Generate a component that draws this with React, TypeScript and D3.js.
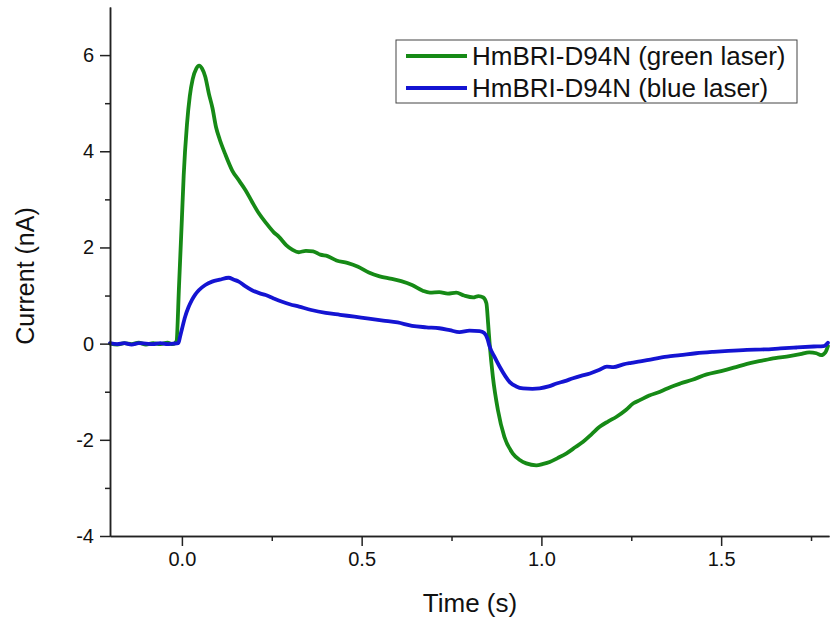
import React, { useEffect, useRef } from "react";
import * as d3 from "d3";

const greenT = [-0.2, -0.18, -0.16, -0.14, -0.12, -0.1, -0.08, -0.06, -0.04, -0.025, -0.015, -0.008, 0.0, 0.005, 0.014, 0.022, 0.03, 0.04, 0.048, 0.056, 0.065, 0.075, 0.085, 0.095, 0.105, 0.12, 0.14, 0.16, 0.177, 0.195, 0.214, 0.235, 0.255, 0.27, 0.29, 0.308, 0.325, 0.345, 0.365, 0.385, 0.405, 0.43, 0.46, 0.49, 0.52, 0.55, 0.58, 0.61, 0.64, 0.67, 0.69, 0.716, 0.74, 0.763, 0.785, 0.81, 0.825, 0.838, 0.847, 0.852, 0.856, 0.865, 0.879, 0.897, 0.92, 0.94, 0.958, 0.986, 1.005, 1.023, 1.045, 1.07, 1.095, 1.116, 1.14, 1.162, 1.185, 1.209, 1.235, 1.256, 1.275, 1.3, 1.33, 1.36, 1.386, 1.42, 1.46, 1.5, 1.535, 1.572, 1.61, 1.65, 1.69, 1.72, 1.745, 1.765, 1.778, 1.79, 1.797];
const greenV = [0.0, -0.02, 0.01, -0.01, 0.02, -0.02, 0.01, -0.01, 0.02, -0.01, 0.05, 1.2, 2.6, 3.5, 4.55, 5.15, 5.5, 5.72, 5.78, 5.72, 5.55, 5.2, 4.9, 4.5, 4.25, 3.95, 3.6, 3.38, 3.19, 2.95, 2.71, 2.5, 2.32, 2.22, 2.05, 1.95, 1.9, 1.93, 1.92, 1.85, 1.82, 1.73, 1.68, 1.6, 1.48, 1.4, 1.35, 1.3, 1.22, 1.1, 1.06, 1.07, 1.04, 1.06, 1.0, 0.96, 0.99, 0.96, 0.84, 0.4, 0.0, -0.69, -1.38, -1.94, -2.28, -2.42, -2.49, -2.53, -2.5, -2.46, -2.38, -2.28, -2.15, -2.04, -1.88, -1.73, -1.62, -1.52, -1.38, -1.24, -1.17, -1.08, -1.0, -0.9, -0.83, -0.75, -0.64, -0.57, -0.5, -0.42, -0.36, -0.3, -0.26, -0.22, -0.18, -0.2, -0.24, -0.18, -0.05];

const blueT = [-0.2, -0.18, -0.16, -0.14, -0.12, -0.1, -0.08, -0.06, -0.04, -0.025, -0.01, -0.005, 0.0, 0.009, 0.018, 0.028, 0.037, 0.047, 0.065, 0.084, 0.105, 0.13, 0.145, 0.158, 0.175, 0.195, 0.215, 0.233, 0.255, 0.279, 0.3, 0.326, 0.36, 0.4, 0.44, 0.48, 0.52, 0.56, 0.6, 0.64, 0.68, 0.716, 0.745, 0.772, 0.8, 0.828, 0.841, 0.85, 0.856, 0.87, 0.884, 0.9, 0.912, 0.93, 0.949, 0.975, 0.995, 1.02, 1.042, 1.065, 1.088, 1.11, 1.135, 1.16, 1.182, 1.2, 1.228, 1.25, 1.275, 1.31, 1.35, 1.386, 1.43, 1.479, 1.52, 1.572, 1.62, 1.665, 1.71, 1.758, 1.785, 1.797];
const blueV = [0.01, -0.01, 0.01, -0.02, 0.01, 0.0, -0.01, 0.01, -0.01, 0.0, 0.01, 0.15, 0.3, 0.56, 0.75, 0.91, 1.02, 1.11, 1.22, 1.29, 1.33, 1.37, 1.33, 1.29, 1.2, 1.11, 1.05, 1.01, 0.94, 0.87, 0.82, 0.77, 0.7, 0.64, 0.6, 0.56, 0.52, 0.48, 0.44, 0.37, 0.34, 0.32, 0.28, 0.24, 0.27, 0.26, 0.22, 0.1, -0.06, -0.28, -0.48, -0.68, -0.8, -0.89, -0.93, -0.94, -0.93, -0.89, -0.83, -0.78, -0.72, -0.67, -0.62, -0.55, -0.48, -0.49, -0.43, -0.4, -0.37, -0.32, -0.27, -0.24, -0.2, -0.17, -0.15, -0.13, -0.12, -0.1, -0.08, -0.06, -0.05, 0.02];

const seriesNames = ["HmBRI-D94N (green laser)", "HmBRI-D94N (blue laser)"];
const seriesColors = ["#168a16", "#1414d2"];

const yMajor = [-4, -2, 0, 2, 4, 6];
const yMinor = [-3, -1, 1, 3, 5];
const xMajor = [0, 0.5, 1.0, 1.5];
const xMinor = [0.25, 0.75, 1.25, 1.75];

const W = 839;
const H = 623;
const FONT = "'Liberation Sans', Arial, sans-serif";

export default function App() {
  const ref = useRef<SVGSVGElement | null>(null);

  useEffect(() => {
    const svg = d3.select(ref.current);
    svg.selectAll("*").remove();

    const x = d3.scaleLinear().domain([-0.2, 1.8]).range([110, 829]);
    const y = d3.scaleLinear().domain([-4, 7]).range([536, 7]);

    const line = d3
      .line<[number, number]>()
      .x((d) => x(d[0]))
      .y((d) => y(d[1]))
      .curve(d3.curveMonotoneX);

    const gData: [number, number][] = greenT.map((t, i) => [t, greenV[i]]);
    const bData: [number, number][] = blueT.map((t, i) => [t, blueV[i]]);

    [gData, bData].forEach((data, i) => {
      svg
        .append("path")
        .attr("d", line(data) as string)
        .attr("fill", "none")
        .attr("stroke", seriesColors[i])
        .attr("stroke-width", 3.8)
        .attr("stroke-linejoin", "round")
        .attr("stroke-linecap", "round");
    });

    const styleAxis = (g: any) => {
      g.selectAll("path, line").attr("stroke", "#222").attr("stroke-width", 1.5);
      g.selectAll("text").attr("fill", "#111").style("font-family", FONT).style("font-size", "20px");
    };

    // Y axis
    svg
      .append("g")
      .attr("transform", "translate(110,0)")
      .call(d3.axisLeft(y).tickValues(yMinor).tickSize(5).tickSizeOuter(0).tickFormat(() => ""))
      .call(styleAxis);
    svg
      .append("g")
      .attr("transform", "translate(110,0)")
      .call(d3.axisLeft(y).tickValues(yMajor).tickSize(10).tickSizeOuter(0).tickPadding(6).tickFormat((d) => String(d)))
      .call(styleAxis);

    // X axis
    svg
      .append("g")
      .attr("transform", "translate(0,536)")
      .call(d3.axisBottom(x).tickValues(xMinor).tickSize(5).tickSizeOuter(0).tickFormat(() => ""))
      .call(styleAxis);
    svg
      .append("g")
      .attr("transform", "translate(0,536)")
      .call(d3.axisBottom(x).tickValues(xMajor).tickSize(10).tickSizeOuter(0).tickPadding(6).tickFormat(d3.format(".1f") as any))
      .call(styleAxis);

    // Axis titles
    svg
      .append("text")
      .attr("x", 470)
      .attr("y", 612)
      .attr("text-anchor", "middle")
      .style("font-family", FONT)
      .style("font-size", "26px")
      .attr("fill", "#111")
      .text("Time (s)");
    svg
      .append("text")
      .attr("transform", "translate(34,276) rotate(-90)")
      .attr("text-anchor", "middle")
      .style("font-family", FONT)
      .style("font-size", "25px")
      .attr("fill", "#111")
      .text("Current (nA)");

    // Legend
    const lg = svg.append("g");
    lg.append("rect")
      .attr("x", 396)
      .attr("y", 40)
      .attr("width", 401)
      .attr("height", 63)
      .attr("fill", "white")
      .attr("stroke", "#444")
      .attr("stroke-width", 1);
    seriesNames.forEach((name, i) => {
      const cy = 56 + i * 32;
      lg.append("line")
        .attr("x1", 406)
        .attr("x2", 467)
        .attr("y1", cy)
        .attr("y2", cy)
        .attr("stroke", seriesColors[i])
        .attr("stroke-width", 4);
      lg.append("text")
        .attr("x", 472)
        .attr("y", cy + 9)
        .style("font-family", FONT)
        .style("font-size", "26px")
        .attr("fill", "#111")
        .text(name);
    });
  }, []);

  return (
    <svg
      ref={ref}
      width={W}
      height={H}
      style={{ position: "absolute", left: 0, top: 0, background: "white" }}
    />
  );
}
